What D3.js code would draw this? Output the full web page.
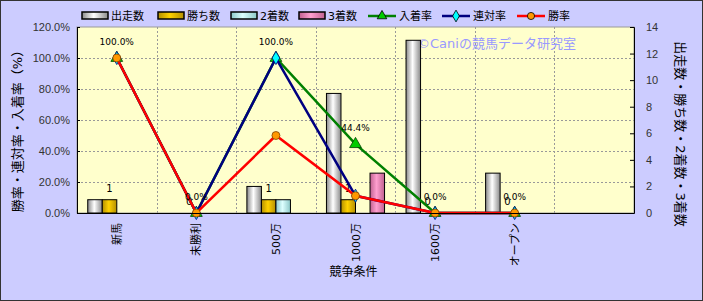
<!DOCTYPE html>
<html>
<head>
<meta charset="utf-8">
<script src="https://cdn.jsdelivr.net/npm/d3@7"></script>
<style>
body { margin: 0; background: #fff; }
text { font-family: "DejaVu Sans", "Noto Sans CJK JP", sans-serif; }
</style>
</head>
<body>
<script>
var categories = ["新馬", "未勝利", "500万", "1000万", "1600万", "オープン", ""];
var starts = [1, 0, 2, 9, 13, 3, null];
var wins = [1, 0, 1, 1, 0, 0, null];
var seconds = [0, 0, 1, 0, 0, 0, null];
var thirds = [0, 0, 0, 3, 0, 0, null];
var placeRate = [1.0, 0, 1.0, 0.444, 0, 0, null];
var rentaiRate = [1.0, 0, 1.0, 0.111, 0, 0, null];
var winRate = [1.0, 0, 0.5, 0.111, 0, 0, null];
var leftTicks = [0, 0.2, 0.4, 0.6, 0.8, 1.0, 1.2];
var rightTicks = [0, 2, 4, 6, 8, 10, 12, 14];

var W = 703, H = 301;
var pLeft = 77, pRight = 634, pTop = 27, pBottom = 213;

var svg = d3.select("body").append("svg")
	.attr("width", W).attr("height", H);

var defs = svg.append("defs");
function grad(id, edge, mid) {
	var g = defs.append("linearGradient").attr("id", id)
		.attr("x1", "0").attr("x2", "1").attr("y1", "0").attr("y2", "0");
	g.append("stop").attr("offset", "0").attr("stop-color", edge);
	g.append("stop").attr("offset", "0.45").attr("stop-color", mid);
	g.append("stop").attr("offset", "1").attr("stop-color", edge);
}
grad("gStart", "#8a8a8a", "#ffffff");
grad("gWin", "#b38f00", "#ffd200");
grad("gSecond", "#8cc8c8", "#ddffff");
grad("gThird", "#c0608f", "#ff9fcf");

svg.append("rect").attr("x", 0.5).attr("y", 0.5).attr("width", W - 1).attr("height", H - 1)
	.attr("fill", "#ccccff").attr("stroke", "#333");

var x = d3.scaleBand().domain(categories.map((d, i) => i)).range([pLeft, pRight]);
var bw = x.bandwidth();
var barSeries = [
	{ name: "出走数", values: starts, fill: "url(#gStart)" },
	{ name: "勝ち数", values: wins, fill: "url(#gWin)" },
	{ name: "2着数", values: seconds, fill: "url(#gSecond)" },
	{ name: "3着数", values: thirds, fill: "url(#gThird)" }
];
var x1 = d3.scaleBand().domain(barSeries.map(s => s.name)).range([bw * 0.135, bw * 0.865]);
var yL = d3.scaleLinear().domain([0, 1.2]).range([pBottom, pTop]);
var yR = d3.scaleLinear().domain([0, 14]).range([pBottom, pTop]);

// plot area
svg.append("rect").attr("x", pLeft).attr("y", pTop).attr("width", pRight - pLeft).attr("height", pBottom - pTop)
	.attr("fill", "#ffffcc").attr("stroke", "#999");

// gridlines
svg.append("g").selectAll("line").data(leftTicks.slice(1, -1)).enter().append("line")
	.attr("x1", pLeft).attr("x2", pRight)
	.attr("y1", d => Math.round(yL(d)) + 0.5).attr("y2", d => Math.round(yL(d)) + 0.5)
	.attr("stroke", "#999").attr("stroke-dasharray", "2,2");
svg.append("g").selectAll("line").data(d3.range(1, categories.length)).enter().append("line")
	.attr("x1", d => Math.round(x(d)) + 0.5).attr("x2", d => Math.round(x(d)) + 0.5)
	.attr("y1", pTop).attr("y2", pBottom)
	.attr("stroke", "#999").attr("stroke-dasharray", "2,2");

// watermark
svg.append("text").attr("x", 417).attr("y", 48).text("©Caniの競馬データ研究室")
	.attr("font-size", "13px").attr("fill", "#9999ff");

// bars
barSeries.forEach(function(s) {
	svg.append("g").selectAll("rect")
		.data(s.values.map((v, i) => ({ v: v, i: i })).filter(d => d.v > 0))
		.enter().append("rect")
		.attr("x", d => x(d.i) + x1(s.name))
		.attr("y", d => yR(d.v))
		.attr("width", x1.bandwidth())
		.attr("height", d => pBottom - yR(d.v))
		.attr("fill", s.fill).attr("stroke", "#000").attr("stroke-width", 1);
});

// win count labels
svg.append("g").selectAll("text")
	.data(wins.map((v, i) => ({ v: v, i: i })).filter(d => d.v != null))
	.enter().append("text")
	.attr("x", d => x(d.i) + x1("勝ち数") + x1.bandwidth() / 2)
	.attr("y", d => yR(d.v) - 8)
	.attr("text-anchor", "middle").attr("font-size", "10px").attr("fill", "#000")
	.text(d => d.v);

// lines
var lineSeries = [
	{ name: "入着率", values: placeRate, color: "#008000", marker: "triangle", mfill: "#00cc00", mstroke: "#004000" },
	{ name: "連対率", values: rentaiRate, color: "#000080", marker: "diamond", mfill: "#00ffff", mstroke: "#000080" },
	{ name: "勝率", values: winRate, color: "#ff0000", marker: "circle", mfill: "#ff9900", mstroke: "#804000" }
];
var symbols = { triangle: d3.symbolTriangle, diamond: d3.symbolDiamond, circle: d3.symbolCircle };
var pts = s => s.values.map((v, i) => ({ v: v, i: i })).filter(d => d.v != null);
var line = d3.line().x(d => x(d.i) + bw / 2).y(d => yL(d.v));

lineSeries.forEach(function(s) {
	var g = svg.append("g");
	g.append("path").datum(pts(s)).attr("d", line)
		.attr("fill", "none").attr("stroke", s.color).attr("stroke-width", 2.5);
	g.selectAll("path.m").data(pts(s)).enter().append("path")
		.attr("transform", d => `translate(${x(d.i) + bw / 2},${yL(d.v)})`)
		.attr("d", d3.symbol().type(symbols[s.marker]).size(s.marker == "triangle" ? 60 : 50))
		.attr("fill", s.mfill).attr("stroke", s.mstroke).attr("stroke-width", 0.8);
});

// rate labels (入着率)
svg.append("g").selectAll("text").data(pts(lineSeries[0])).enter().append("text")
	.attr("x", d => x(d.i) + bw / 2)
	.attr("y", d => yL(d.v) - 13)
	.attr("text-anchor", "middle").attr("font-size", "9px")
	.attr("fill", "#000")
	.text(d => (d.v * 100).toFixed(1) + "%");

// axes
var axL = svg.append("g").attr("transform", `translate(${pLeft},0)`)
	.call(d3.axisLeft(yL).tickValues(leftTicks).tickSize(-3).tickPadding(7)
		.tickFormat(d => (d * 100).toFixed(1) + "%"));
var axR = svg.append("g").attr("transform", `translate(${pRight},0)`)
	.call(d3.axisRight(yR).tickValues(rightTicks).tickSize(-4).tickPadding(12));
[axL, axR].forEach(function(a) {
	a.select(".domain").attr("stroke", "#000");
	a.selectAll("text").attr("font-size", "11px").attr("fill", "#333")
		.style("font-family", "Liberation Sans, Arial, sans-serif");
});
svg.append("line").attr("x1", pLeft).attr("x2", pRight).attr("y1", pBottom + 0.5).attr("y2", pBottom + 0.5)
	.attr("stroke", "#000");

// category labels
svg.append("g").selectAll("text").data(categories).enter().append("text")
	.attr("transform", (d, i) => `translate(${x(i) + bw / 2 + 4},223) rotate(-90)`)
	.attr("text-anchor", "end").attr("font-size", "11px").attr("fill", "#000")
	.text(d => d);

// titles
svg.append("text").attr("x", (pLeft + pRight) / 2 - 2).attr("y", 276).attr("text-anchor", "middle")
	.attr("font-size", "12px").text("競争条件");
svg.append("text").attr("transform", "translate(22,128) rotate(-90)").attr("text-anchor", "middle")
	.attr("font-size", "13px").text("勝率・連対率・入着率（%）");
svg.append("text").attr("transform", "translate(676,134) rotate(90)").attr("text-anchor", "middle")
	.attr("font-size", "13px").text("出走数・勝ち数・2着数・3着数");

// legend
var legX = [82, 158, 231, 299, 368, 442, 517];
var legY = 16;
barSeries.forEach(function(s, i) {
	svg.append("rect").attr("x", legX[i]).attr("y", legY - 4).attr("width", 26).attr("height", 7)
		.attr("fill", s.fill).attr("stroke", "#000").attr("stroke-width", 1.5);
	svg.append("text").attr("x", legX[i] + 29).attr("y", legY + 4).attr("font-size", "11px").text(s.name);
});
lineSeries.forEach(function(s, j) {
	var lx = legX[4 + j];
	var g = svg.append("g");
	g.append("line").attr("x1", lx).attr("x2", lx + 28).attr("y1", legY).attr("y2", legY)
		.attr("stroke", s.color).attr("stroke-width", 2.5);
	g.append("path").attr("transform", `translate(${lx + 14},${legY})`)
		.attr("d", d3.symbol().type(symbols[s.marker]).size(40))
		.attr("fill", s.mfill).attr("stroke", "#000").attr("stroke-width", 0.8);
	svg.append("text").attr("x", lx + 31).attr("y", legY + 4).attr("font-size", "11px").text(s.name);
});
</script>
</body>
</html>
